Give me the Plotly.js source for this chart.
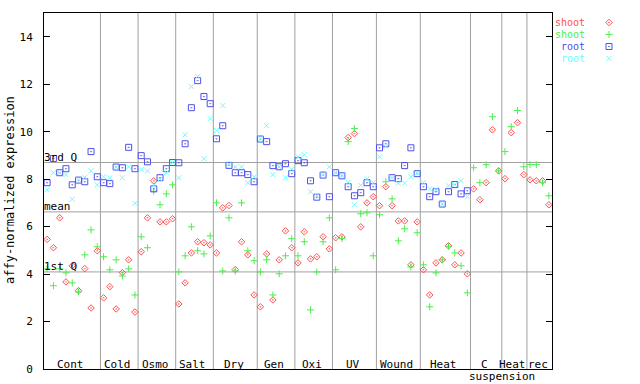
<!DOCTYPE html>
<html>
<head>
<meta charset="utf-8">
<script src="https://cdn.plot.ly/plotly-3.0.1.min.js"></script>
<style>html,body{margin:0;padding:0;background:#fff;}#chart{width:640px;height:384px;}</style>
</head>
<body>
<div id="chart"></div>
<script>
// ---- data ----
const groupLabels = ['Cont','Cold','Osmo','Salt','Dry','Gen','Oxi','UV','Wound','Heat','C','Heat','rec'];
const groupSizes  = [9,6,6,6,7,6,6,7,7,8,5,4,4];

const shootA = [5.46,5.11,6.37,3.67,4.35,3.30,4.23,2.57,4.98,
  3.00,3.47,2.53,4.06,4.60,2.40,
  4.94,6.37,7.93,6.20,6.20,6.33,
  2.74,3.63,4.89,5.36,5.32,5.23,
  4.89,6.79,6.89,4.19,5.36,4.81,3.12,
  2.62,4.85,2.91,4.60,5.82,5.11,
  4.47,5.78,4.64,4.73,5.57,5.06,
  5.53,5.57,9.75,9.92,5.99,7.00,7.26,
  6.88,7.68,6.88,6.24,6.24,4.39,6.20,
  4.18,3.12,4.47,4.60,5.19,4.39,4.89,4.01,
  7.59,7.13,7.85,10.08,8.35,
  8.02,9.96,10.38,8.19,
  7.97,7.93,7.93,6.92];
const shootB = [4.22,3.51,4.22,4.05,3.63,3.25,4.81,5.86,5.15,
  4.73,4.18,4.60,3.92,4.22,3.12,
  5.57,5.11,7.49,6.92,7.38,7.76,
  4.09,4.77,5.99,4.98,4.85,5.61,
  7.00,4.13,6.37,4.13,7.00,4.98,4.56,
  4.09,4.60,3.12,4.01,4.77,5.49,
  4.77,5.36,2.49,4.09,5.36,6.37,
  4.18,5.50,9.58,10.13,6.54,6.58,4.77,
  6.50,7.89,7.17,5.40,5.91,4.30,5.74,
  4.39,2.62,4.05,4.60,5.17,4.89,4.35,3.21,
  8.48,7.85,8.61,10.63,8.35,
  9.16,10.21,10.89,8.52,
  8.61,8.61,7.85,7.30];
const rootA = [7.85,8.87,8.27,8.44,7.76,7.96,7.89,9.16,8.10,
  7.85,7.81,8.51,8.48,9.34,8.44,
  8.99,8.73,7.59,8.06,8.44,8.70,
  8.69,9.49,11.01,12.15,11.48,11.18,
  9.70,10.25,8.58,8.27,8.27,8.19,7.89,
  9.69,9.58,8.57,8.52,8.65,8.23,
  8.78,8.69,7.93,7.24,8.17,7.26,
  8.27,8.14,7.68,7.30,7.43,7.85,7.68,
  9.32,9.49,8.06,8.02,8.57,9.32,8.23,
  7.68,7.26,7.47,6.95,7.47,7.77,7.38,7.51,
  null,null,null,null,null,
  null,null,null,null,
  null,null,null,null];
const rootB = [7.55,8.27,8.27,8.19,7.15,7.97,8.08,8.35,7.76,
  8.10,8.06,8.50,8.06,8.52,6.98,
  8.40,8.35,7.75,8.00,8.27,8.70,
  8.06,9.87,11.90,12.33,8.86,10.55,
  10.05,11.10,8.62,8.52,8.52,7.85,8.10,
  9.70,10.25,8.19,8.52,8.06,8.42,
  8.94,9.03,7.47,7.30,8.19,8.52,
  8.27,8.15,7.87,6.92,7.74,8.02,7.85,
  8.94,9.37,8.06,7.83,7.83,8.10,8.25,
  7.85,7.59,7.56,6.95,7.72,7.77,7.93,7.26,
  null,null,null,null,null,
  null,null,null,null,
  null,null,null,null];

const refValues = [8.70, 6.62, 4.09];
const refLabels = ['3rd Q', 'mean', '1st Q'];

const seriesNames  = ['shoot','shoot','root','root'];
const seriesData   = [shootA, shootB, rootA, rootB];
const seriesColors = ['#ff4f4f','#4cee4c','#4f4fee','#66ffff'];
const seriesSymbols = ['diamond-open-dot','cross-thin-open','square-open-dot','x-thin-open'];
const seriesSizes  = [5,5,6,5];

// ---- geometry helpers (pixel layout) ----
const W = 640, H = 384, L = 44, R = 10, T = 13, B = 15;
const plotRight = 552;
const PW = W - L - R, PH = H - T - B;
const px = p => (p - L) / PW;
const py = p => (H - B - p) / PH;
const nSamples = shootA.length;
const xs = shootA.map((_, i) => i + 0.5);
const mono = 'DejaVu Sans Mono, monospace';

// group boundaries
const bounds = [];
let acc = 0;
groupSizes.forEach(s => { acc += s; bounds.push(acc); });
const starts = [0].concat(bounds.slice(0, -1));

const traces = seriesData.map((d, k) => ({
  type: 'scatter', mode: 'markers', x: xs, y: d,
  xaxis: 'x', yaxis: 'y', name: seriesNames[k],
  marker: {symbol: seriesSymbols[k], size: seriesSizes[k], color: seriesColors[k],
           line: {color: seriesColors[k], width: 1}},
  hoverinfo: 'skip', showlegend: false
}));

// legend markers on an overlay axis (pixel units)
const legendY = [22.5, 34.5, 46.5, 58.5];
seriesData.forEach((d, k) => {
  traces.push({type: 'scatter', mode: 'markers', x: [609], y: [legendY[k]],
    xaxis: 'x2', yaxis: 'y2', showlegend: false, hoverinfo: 'skip',
    marker: {symbol: seriesSymbols[k], size: seriesSizes[k], color: seriesColors[k],
             line: {color: seriesColors[k], width: 1}}});
});

const shapes = [];
bounds.slice(0, -1).forEach(b => shapes.push({type: 'line', xref: 'x', yref: 'paper',
  x0: b, x1: b, y0: 0, y1: 1, line: {color: '#a0a0a0', width: 1}, layer: 'below'}));
refValues.forEach(v => shapes.push({type: 'line', xref: 'paper', yref: 'y',
  x0: 0, x1: px(plotRight), y0: v, y1: v, line: {color: '#a0a0a0', width: 1}, layer: 'below'}));

const annotations = [];
groupLabels.forEach((g, k) => {
  annotations.push({xref: 'x', yref: 'y', x: (starts[k] + bounds[k]) / 2 - 0.25, y: 0,
    text: g, showarrow: false, xanchor: 'center', yanchor: 'bottom', yshift: -4,
    font: {family: mono, size: 11, color: '#000'}});
});
annotations.push({xref: 'x', yref: 'paper', x: bounds[10], y: 0, text: 'suspension',
  showarrow: false, xanchor: 'center', yanchor: 'top', yshift: 1,
  font: {family: mono, size: 11, color: '#000'}});
refValues.forEach((v, k) => annotations.push({xref: 'paper', yref: 'y', x: 0, y: v,
  text: refLabels[k], showarrow: false, xanchor: 'left', yanchor: 'bottom', yshift: -3, xshift: -2,
  font: {family: mono, size: 11, color: '#000'}}));
seriesNames.forEach((n, k) => annotations.push({xref: 'paper', yref: 'paper',
  x: px(586), y: py(legendY[k]), text: n, showarrow: false, xanchor: 'right', yanchor: 'middle',
  borderpad: 0, font: {family: mono, size: 10, color: seriesColors[k]}}));
annotations.push({xref: 'paper', yref: 'paper', x: px(10), y: py(190),
  text: 'affy-normalized expression', textangle: -90, showarrow: false,
  xanchor: 'center', yanchor: 'middle', font: {family: mono, size: 12, color: '#000'}});

const layout = {
  width: W, height: H,
  margin: {l: L, r: R, t: T, b: B, pad: 0},
  paper_bgcolor: '#fff', plot_bgcolor: '#fff',
  showlegend: false,
  font: {family: mono, size: 11, color: '#000'},
  xaxis: {domain: [0, px(plotRight)], range: [0, nSamples], showgrid: false, zeroline: false,
    showticklabels: false, ticks: '', showline: true, mirror: true, linecolor: '#000', linewidth: 1},
  yaxis: {range: [0, 15], tickvals: [0,2,4,6,8,10,12,14], showgrid: false, zeroline: false,
    ticks: 'inside', ticklen: 6, tickcolor: '#000', showline: true, mirror: 'ticks',
    linecolor: '#000', linewidth: 1, ticklabelstandoff: 8,
    tickfont: {family: mono, size: 11, color: '#000'}},
  xaxis2: {domain: [px(plotRight), 1], range: [plotRight, W - R], anchor: 'y2',
    visible: false, fixedrange: true},
  yaxis2: {domain: [0, 1], range: [H - B, T], anchor: 'x2', visible: false, fixedrange: true},
  shapes: shapes,
  annotations: annotations
};

Plotly.newPlot('chart', traces, layout, {staticPlot: true, displayModeBar: false});
</script>
</body>
</html>
